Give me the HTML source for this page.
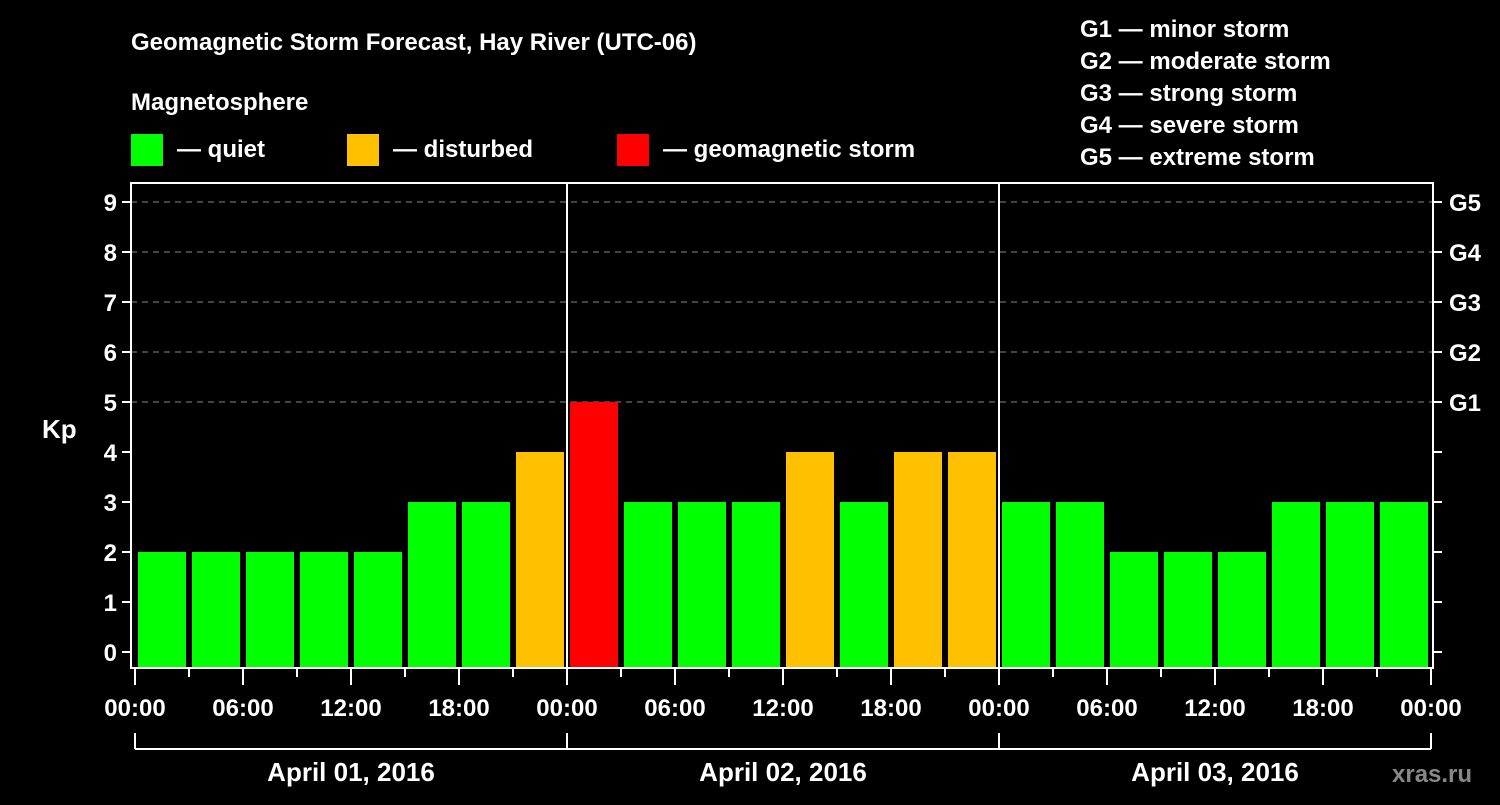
<!DOCTYPE html>
<html><head><meta charset="utf-8"><style>
body{margin:0;background:#000;}
svg text{font-family:"Liberation Sans",Arial,sans-serif;font-weight:bold;fill:#fff;}
</style></head><body>
<svg id="chart" width="1500" height="800" viewBox="0 0 1500 800" xmlns="http://www.w3.org/2000/svg">
<rect width="1500" height="800" fill="#000"/>
<text x="131" y="50" font-size="24">Geomagnetic Storm Forecast, Hay River (UTC-06)</text>
<text x="131" y="110" font-size="24">Magnetosphere</text>
<g><rect x="131" y="134" width="32" height="32" fill="#00ff00"/><text x="177" y="157" font-size="24">— quiet</text></g>
<g><rect x="347" y="134" width="32" height="32" fill="#ffc000"/><text x="393" y="157" font-size="24">— disturbed</text></g>
<g><rect x="617" y="134" width="32" height="32" fill="#ff0000"/><text x="663" y="157" font-size="24">— geomagnetic storm</text></g>
<g font-size="24">
<text x="1080" y="37">G1 — minor storm</text>
<text x="1080" y="69">G2 — moderate storm</text>
<text x="1080" y="101">G3 — strong storm</text>
<text x="1080" y="133">G4 — severe storm</text>
<text x="1080" y="165">G5 — extreme storm</text>
</g>
<text x="42" y="438" font-size="26">Kp</text>
<g id="grid"></g><g id="bars"></g><g id="axes"></g>
<text x="1392" y="782" font-size="24" style="fill:#888">xras.ru</text>
</svg>
<script>
const kpValues=[2,2,2,2,2,3,3,4, 5,3,3,3,4,3,4,4, 3,3,2,2,2,3,3,3];
const yTicks=[0,1,2,3,4,5,6,7,8,9];
const gLabels=["G1","G2","G3","G4","G5"];
const xTickLabels=["00:00","06:00","12:00","18:00","00:00","06:00","12:00","18:00","00:00","06:00","12:00","18:00","00:00"];
const dayLabels=["April 01, 2016","April 02, 2016","April 03, 2016"];
const NS="http://www.w3.org/2000/svg";
const x0=135,slot=54,plotTop=183,plotBottom=668,left=131,right=1433;
const y=v=>652-v*50;
const x=i=>x0+i*slot;
function mk(tag,attrs,parent,txt){const e=document.createElementNS(NS,tag);for(const k in attrs)e.setAttribute(k,attrs[k]);if(txt!==undefined)e.textContent=txt;document.getElementById(parent).appendChild(e);return e;}
yTicks.forEach(v=>{
  if(v>=5){const l=mk('line',{x1:left,x2:right,y1:y(v),y2:y(v),stroke:'#888','stroke-width':1,'stroke-dasharray':'6,5'},'grid');
  
  }
  mk('line',{x1:122,x2:left,y1:y(v),y2:y(v),stroke:'#fff','stroke-width':2},'axes');
  mk('line',{x1:right,x2:right+9,y1:y(v),y2:y(v),stroke:'#fff','stroke-width':2},'axes');
  const t=mk('text',{x:117,y:y(v)+9,'font-size':24,'text-anchor':'end'},'axes',String(v));
  
  
  if(v>=5){const g=mk('text',{x:1449,y:y(v)+9,'font-size':24},'axes',gLabels[v-5]);
  
  }
});
kpValues.forEach((v,i)=>{
  const c=v>=5?'#ff0000':(v>=4?'#ffc000':'#00ff00');
  const r=mk('rect',{x:x(i)+3,y:y(v),width:slot-6,height:plotBottom-y(v),fill:c},'bars');
  
  
});
mk('rect',{x:left,y:plotTop,width:right-left,height:plotBottom-plotTop,fill:'none',stroke:'#fff','stroke-width':2},'axes');
for(let d=1;d<dayLabels.length;d++){mk('line',{x1:x(d*8),x2:x(d*8),y1:plotTop,y2:plotBottom,stroke:'#fff','stroke-width':2},'axes');}
for(let i=0;i<=kpValues.length;i++){
  const major=i%2===0;
  mk('line',{x1:x(i),x2:x(i),y1:plotBottom,y2:major?685:677,stroke:'#fff','stroke-width':2},'axes');
  if(major){const t=mk('text',{x:x(i),y:716,'font-size':24,'text-anchor':'middle'},'axes',xTickLabels[i/2]);
  
  }
}
mk('line',{x1:x(0),x2:x(24),y1:749,y2:749,stroke:'#fff','stroke-width':2},'axes');
for(let d=0;d<=dayLabels.length;d++)mk('line',{x1:x(d*8),x2:x(d*8),y1:733,y2:749,stroke:'#fff','stroke-width':2},'axes');
dayLabels.forEach((s,d)=>{const t=mk('text',{x:x(d*8+4),y:781,'font-size':26,'text-anchor':'middle'},'axes',s);

});
</script>
</body></html>
